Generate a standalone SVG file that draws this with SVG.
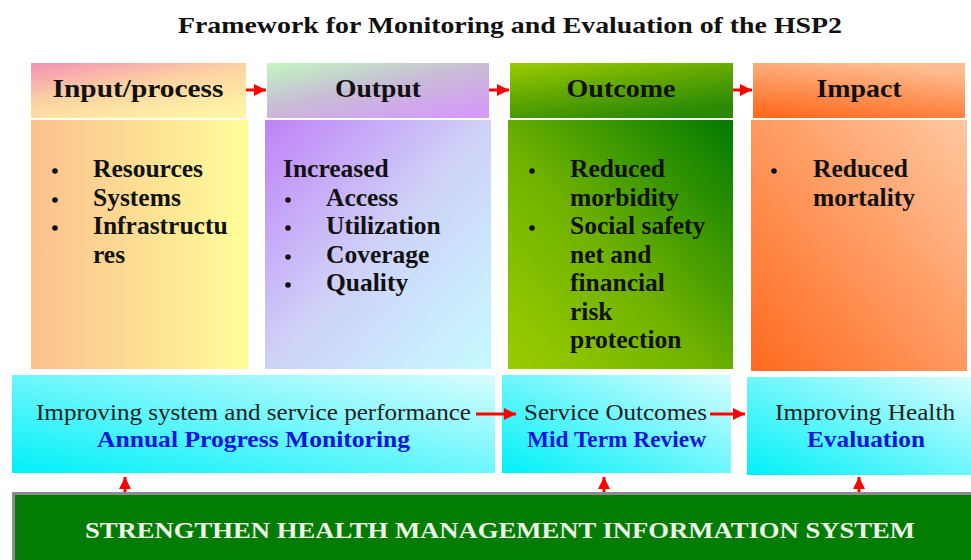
<svg xmlns="http://www.w3.org/2000/svg" width="971" height="560" viewBox="0 0 971 560">
  <defs>
    <linearGradient id="inHead" x1="0" y1="0" x2="0.7" y2="1">
      <stop offset="0" stop-color="#f590b5"/>
      <stop offset="0.5" stop-color="#fcd3a2"/>
      <stop offset="1" stop-color="#fff3a4"/>
    </linearGradient>
    <linearGradient id="inBody" x1="0" y1="0" x2="1" y2="0">
      <stop offset="0" stop-color="#fbc08e"/>
      <stop offset="1" stop-color="#fffd98"/>
    </linearGradient>
    <linearGradient id="outHead" x1="0" y1="0" x2="0.8" y2="1">
      <stop offset="0" stop-color="#c2f7c0"/>
      <stop offset="0.5" stop-color="#c8bcd6"/>
      <stop offset="1" stop-color="#d59bf8"/>
    </linearGradient>
    <linearGradient id="outBody" x1="0" y1="0" x2="1" y2="1">
      <stop offset="0" stop-color="#bf82f7"/>
      <stop offset="0.5" stop-color="#cfd2f8"/>
      <stop offset="1" stop-color="#c6fbff"/>
    </linearGradient>
    <linearGradient id="ocHead" x1="0" y1="0" x2="0.6" y2="1">
      <stop offset="0" stop-color="#9ccc00"/>
      <stop offset="0.5" stop-color="#62a800"/>
      <stop offset="1" stop-color="#2a8a06"/>
    </linearGradient>
    <linearGradient id="ocBody" x1="0" y1="1" x2="1" y2="0">
      <stop offset="0" stop-color="#9acd00"/>
      <stop offset="0.45" stop-color="#70b200"/>
      <stop offset="1" stop-color="#007a00"/>
    </linearGradient>
    <linearGradient id="imHead" x1="0.2" y1="1" x2="0.6" y2="0">
      <stop offset="0" stop-color="#ff6a1e"/>
      <stop offset="1" stop-color="#fdbd92"/>
    </linearGradient>
    <linearGradient id="imBody" x1="0" y1="1" x2="1" y2="0">
      <stop offset="0" stop-color="#ff6a1e"/>
      <stop offset="1" stop-color="#ffc8a0"/>
    </linearGradient>
    <linearGradient id="cyan" x1="0" y1="1" x2="1" y2="0">
      <stop offset="0" stop-color="#00f0f8"/>
      <stop offset="1" stop-color="#d8fdff"/>
    </linearGradient>
    <marker id="head" viewBox="0 0 10 10" refX="10" refY="5" markerWidth="4" markerHeight="4.4" markerUnits="strokeWidth" orient="auto">
      <path d="M0,0 L10,5 L0,10 Z" fill="#ff0000"/>
    </marker>
  </defs>
  <style>
    text { font-family: "Liberation Serif", "Times New Roman", serif; }
    .title { font-size: 24px; font-weight: bold; fill: #111; }
    .hd { font-size: 26px; font-weight: bold; fill: #111; text-anchor: middle; }
    .bd { font-size: 25.5px; font-weight: bold; fill: #111; }
    .dot { fill: #111; }
    .lv { font-size: 24px; fill: #222; }
    .bl { font-size: 24px; font-weight: bold; fill: #0a14e0; }
    .bar { font-size: 24px; font-weight: bold; fill: #eef4e8; }
    .conn { stroke: #ff0000; stroke-width: 3; fill: none; marker-end: url(#head); }
  </style>

  <rect x="0" y="0" width="971" height="560" fill="#ffffff"/>

  <text class="title" x="178" y="33" textLength="664" lengthAdjust="spacingAndGlyphs">Framework for Monitoring and Evaluation of the HSP2</text>

  <!-- Input / process column -->
  <g id="input">
    <rect x="31" y="63" width="215" height="55" fill="url(#inHead)"/>
    <text class="hd" x="138" y="97" textLength="171" lengthAdjust="spacingAndGlyphs">Input/process</text>
    <rect x="31" y="120" width="217" height="249" fill="url(#inBody)"/>
    <circle class="dot" cx="55" cy="171" r="2.8"/>
    <circle class="dot" cx="55" cy="200" r="2.8"/>
    <circle class="dot" cx="55" cy="228" r="2.8"/>
    <text class="bd" x="93" y="177">Resources</text>
    <text class="bd" x="93" y="206">Systems</text>
    <text class="bd" x="93" y="234">Infrastructu</text>
    <text class="bd" x="93" y="263">res</text>
  </g>

  <!-- Output column -->
  <g id="output">
    <rect x="267" y="63" width="222" height="55" fill="url(#outHead)"/>
    <text class="hd" x="378" y="97" textLength="86" lengthAdjust="spacingAndGlyphs">Output</text>
    <rect x="265" y="120" width="226" height="249" fill="url(#outBody)"/>
    <text class="bd" x="283" y="177">Increased</text>
    <circle class="dot" cx="288" cy="200" r="2.8"/>
    <circle class="dot" cx="288" cy="228" r="2.8"/>
    <circle class="dot" cx="288" cy="257" r="2.8"/>
    <circle class="dot" cx="288" cy="285" r="2.8"/>
    <text class="bd" x="326" y="206">Access</text>
    <text class="bd" x="326" y="234">Utilization</text>
    <text class="bd" x="326" y="263">Coverage</text>
    <text class="bd" x="326" y="291">Quality</text>
  </g>

  <!-- Outcome column -->
  <g id="outcome">
    <rect x="510" y="63" width="223" height="55" fill="url(#ocHead)"/>
    <text class="hd" x="621" y="97" textLength="109" lengthAdjust="spacingAndGlyphs">Outcome</text>
    <rect x="508" y="120" width="225" height="249" fill="url(#ocBody)"/>
    <circle class="dot" cx="532" cy="171" r="2.8"/>
    <circle class="dot" cx="532" cy="228" r="2.8"/>
    <text class="bd" x="570" y="177">Reduced</text>
    <text class="bd" x="570" y="206">morbidity</text>
    <text class="bd" x="570" y="234">Social safety</text>
    <text class="bd" x="570" y="263">net and</text>
    <text class="bd" x="570" y="291">financial</text>
    <text class="bd" x="570" y="320">risk</text>
    <text class="bd" x="570" y="348">protection</text>
  </g>

  <!-- Impact column -->
  <g id="impact">
    <rect x="753" y="63" width="212" height="55" fill="url(#imHead)"/>
    <text class="hd" x="859" y="97" textLength="85" lengthAdjust="spacingAndGlyphs">Impact</text>
    <rect x="751" y="120" width="216" height="251" fill="url(#imBody)"/>
    <circle class="dot" cx="774" cy="171" r="2.8"/>
    <text class="bd" x="813" y="177">Reduced</text>
    <text class="bd" x="813" y="206">mortality</text>
  </g>

  <!-- Review stages -->
  <g id="annual">
    <rect x="12" y="375" width="483" height="98" fill="url(#cyan)"/>
    <text class="lv" x="36" y="420" textLength="435" lengthAdjust="spacingAndGlyphs">Improving system and service performance</text>
    <text class="bl" x="97" y="447" textLength="313" lengthAdjust="spacingAndGlyphs">Annual Progress Monitoring</text>
  </g>
  <g id="midterm">
    <rect x="502" y="375" width="229" height="98" fill="url(#cyan)"/>
    <text class="lv" x="524" y="420" textLength="183" lengthAdjust="spacingAndGlyphs">Service Outcomes</text>
    <text class="bl" x="527" y="447" textLength="179" lengthAdjust="spacingAndGlyphs">Mid Term Review</text>
  </g>
  <g id="evaluation">
    <rect x="747" y="377" width="226" height="98" fill="url(#cyan)"/>
    <text class="lv" x="775" y="420" textLength="180" lengthAdjust="spacingAndGlyphs">Improving Health</text>
    <text class="bl" x="807" y="447" textLength="118" lengthAdjust="spacingAndGlyphs">Evaluation</text>
  </g>

  <!-- HMIS foundation bar -->
  <g id="hmis">
    <rect x="13.5" y="493.5" width="962" height="70" fill="#037c03" stroke="#8c8c8c" stroke-width="3"/>
    <text class="bar" x="85" y="538" textLength="830" lengthAdjust="spacingAndGlyphs">STRENGTHEN HEALTH MANAGEMENT INFORMATION SYSTEM</text>
  </g>

  <!-- Connectors -->
  <g id="connectors">
    <line class="conn" x1="246" y1="90" x2="266" y2="90"/>
    <line class="conn" x1="489" y1="90" x2="509" y2="90"/>
    <line class="conn" x1="733" y1="90" x2="752" y2="90"/>
    <line class="conn" x1="476" y1="414" x2="516" y2="414"/>
    <line class="conn" x1="710" y1="414" x2="745" y2="414"/>
    <line class="conn" x1="125" y1="492" x2="125" y2="477"/>
    <line class="conn" x1="604" y1="492" x2="604" y2="477"/>
    <line class="conn" x1="859" y1="492" x2="859" y2="477"/>
  </g>
</svg>
